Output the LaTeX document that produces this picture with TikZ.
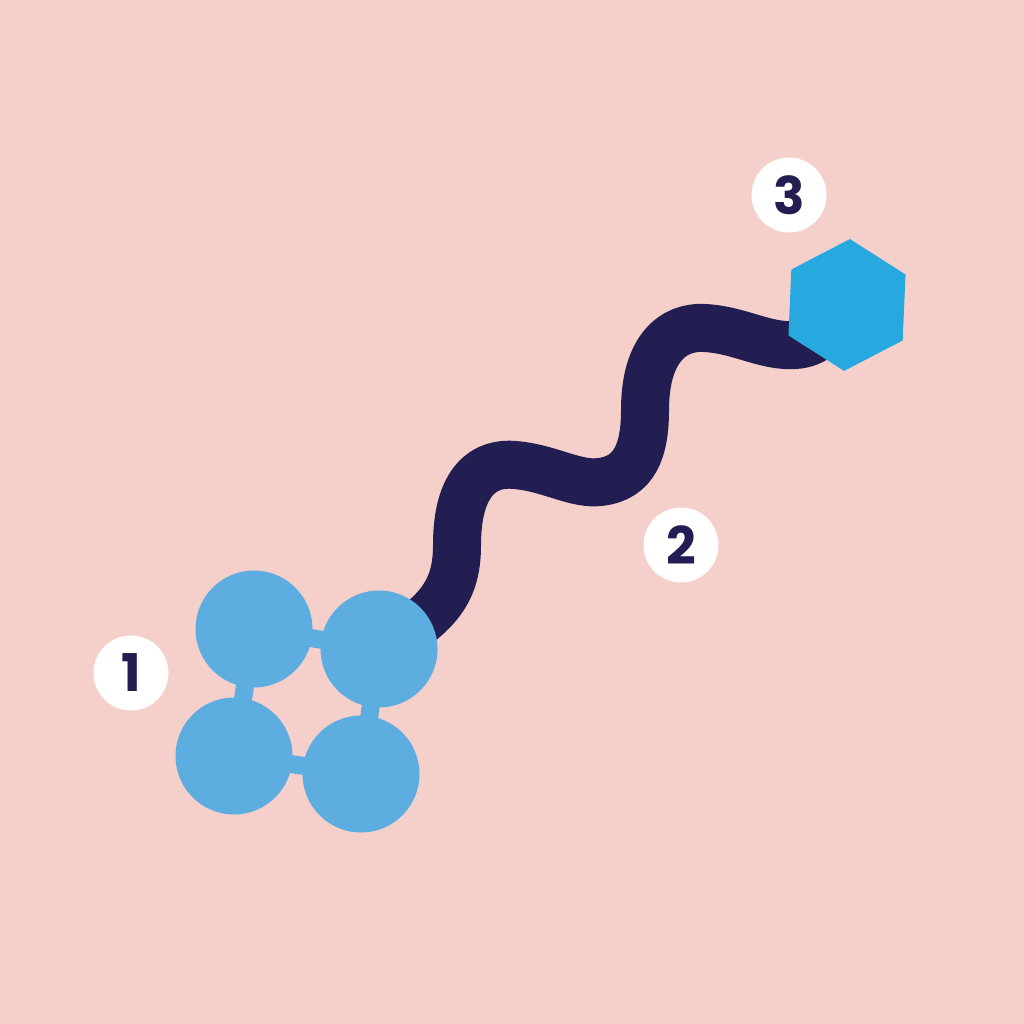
\documentclass[tikz,border=0pt]{standalone}
\usepackage{fontspec}
\newfontfamily\numfont{Poppins}
\usetikzlibrary{shapes.geometric,backgrounds}
\definecolor{bgpink}{HTML}{F5D0CB}
\definecolor{ballblue}{HTML}{5DADE1}
\definecolor{hexblue}{HTML}{27A9E0}
\definecolor{navy}{HTML}{231E51}
\tikzset{
  ball/.style={circle,fill=ballblue,minimum size=117pt,inner sep=0pt},
  bond/.style={line width=18pt,draw=ballblue},
  chain/.style={line width=48pt,draw=navy,line cap=round},
  hexbox/.style={regular polygon,regular polygon sides=6,fill=hexblue,minimum size=132pt,inner sep=0pt,rotate=27.5},
  badge/.style={circle,fill=white,minimum size=75pt,inner sep=0pt,text=navy,font=\numfont\bfseries\fontsize{52}{52}\selectfont}
}
\begin{document}
\begin{tikzpicture}[x=1pt,y=-1pt]
\useasboundingbox (0,0) rectangle (1024,1024);
\node[ball] (a) at (254,629) {};
\node[ball] (b) at (379,649) {};
\node[ball] (c) at (234,756) {};
\node[ball] (d) at (361,774) {};
\node[hexbox] (h) at (847,305) {};
\node[badge] (l1) at (131,673) {1};
\node[badge] (l2) at (681,545) {2};
\node[badge] (l3) at (789,195) {3};
\begin{scope}[on background layer]
\fill[bgpink] (0,0) rectangle (1024,1024);
\draw[chain] (b.center) .. controls (440,615) and (457,590) .. (457,545)
  .. controls (457,480) and (485,462) .. (515,465)
  .. controls (550,468) and (575,485) .. (600,482)
  .. controls (635,478) and (645,450) .. (645,410)
  .. controls (645,350) and (672,326) .. (705,328)
  .. controls (740,330) and (765,347) .. (795,345)
  .. controls (815,344) and (830,330) .. (h.center);
\draw[bond] (a.center) -- (b.center);
\draw[bond] (a.center) -- (c.center);
\draw[bond] (c.center) -- (d.center);
\draw[bond] (b.center) -- (d.center);
\end{scope}
\end{tikzpicture}
\end{document}
